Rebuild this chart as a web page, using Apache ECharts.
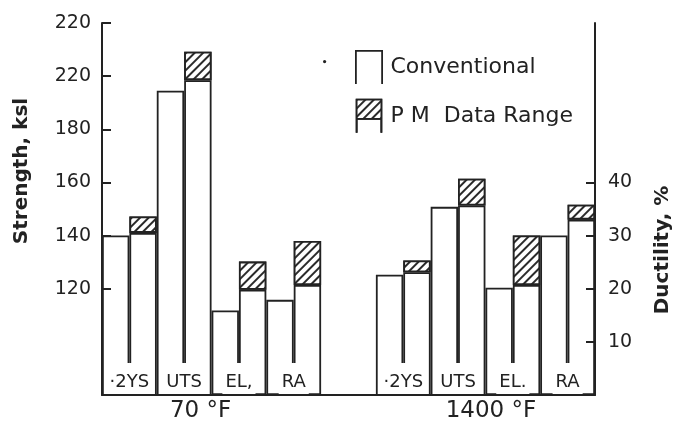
<!DOCTYPE html>
<html><head><meta charset="utf-8">
<script src="https://cdn.jsdelivr.net/npm/echarts@6/dist/echarts.min.js"></script>
<style>html,body{margin:0;padding:0;background:#fff}#c{width:685px;height:434px}</style>
</head><body><div id="c"></div>
<script>
// ---------- data ----------
const groups = ['70 °F', '1400 °F'];
const props70 = ['·2YS', 'UTS', 'EL,', 'RA'];
const props1400 = ['·2YS', 'UTS', 'EL.', 'RA'];
// which axis each property uses: 0 = Strength (ksi, left), 1 = Ductility (%, right)
const propAxis = [0, 0, 1, 1];
const conventional70 = [140, 194.5, 15.9, 17.9];
const pmLow70 = [141, 198.5, 19.8, 20.7];
const pmHigh70 = [147.2, 209.2, 25.1, 29.0];
const conventional1400 = [125.3, 150.8, 20.2, 30.0];
const pmLow1400 = [126.2, 151.3, 20.7, 33.0];
const pmHigh1400 = [130.6, 161.4, 30.0, 35.8];
const strengthTicks = [120, 140, 160, 180, 200, 220];
const strengthTickLabels = ['120', '140', '160', '180', '220', '220'];
const ductilityTicks = [10, 20, 30, 40];
const ductilityTickLabels = ['10', '20', '30', '40'];

// ---------- build slot arrays ----------
const slotsPerGroup = 8, gapSlots = 2;
const nSlots = slotsPerGroup * 2 + gapSlots;
const empty = () => new Array(nSlots).fill('-');
const convS = empty(), convD = empty(), lowS = empty(), rangeS = empty(), lowD = empty(), rangeD = empty();
const sets = [[conventional70, pmLow70, pmHigh70], [conventional1400, pmLow1400, pmHigh1400]];
sets.forEach((s, g) => {
  const start = g * (slotsPerGroup + gapSlots);
  for (let p = 0; p < 4; p++) {
    const c = start + 2 * p, m = c + 1;
    const rng = +(s[2][p] - s[1][p]).toFixed(2);
    if (propAxis[p] === 0) { convS[c] = s[0][p]; lowS[m] = s[1][p]; rangeS[m] = rng; }
    else { convD[c] = s[0][p]; lowD[m] = s[1][p]; rangeD[m] = rng; }
  }
});
const slotCats = Array.from({length: nSlots}, (_, i) => 's' + i);
const pairLabels = [...props70, '', ...props1400];

// ---------- chart ----------
const FONT = 'DejaVu Sans';
const INK = '#222';
const hatch = { symbol: 'rect', symbolSize: 1, color: '#2a2a2a', backgroundColor: '#fff',
  dashArrayX: [1, 0], dashArrayY: [1.7, 4], rotation: -Math.PI / 4 };
const barCommon = { type: 'bar', xAxisIndex: 0, barWidth: '100%', barGap: '-100%', barCategoryGap: 0,
  silent: true, emphasis: { disabled: true },
  itemStyle: { color: '#fff', borderColor: INK, borderWidth: 1.8 } };

const chart = echarts.init(document.getElementById('c'), null, { renderer: 'canvas' });
chart.setOption({
  animation: false,
  backgroundColor: '#fff',
  textStyle: { fontFamily: FONT, color: INK },
  grid: { left: 102, right: 90, top: 23, bottom: 39 },
  legend: {
    orient: 'vertical', left: 350, top: 45, itemWidth: 27, itemHeight: 33, itemGap: 14,
    selectedMode: false,
    itemStyle: { borderColor: INK, borderWidth: 1.8 },
    textStyle: { fontFamily: FONT, fontSize: 22, color: INK, padding: [0, 0, 0, 3] },
    data: [
      { name: 'Conventional', icon: 'path://M0,34L0,0L27,0L27,34' },
      { name: 'P M  Data Range', icon: 'path://M0,0L27,0L27,21L0,21Z M0,21L0,36 M27,21L27,36' }
    ]
  },
  graphic: [{ type: 'circle', left: 323, top: 60, shape: { r: 1.6 }, style: { fill: INK } }],
  xAxis: [
    { type: 'category', data: slotCats, position: 'bottom', boundaryGap: true, z: 11,
      axisLine: { show: true, lineStyle: { color: INK, width: 2 } },
      axisTick: { show: false }, axisLabel: { show: false }, splitLine: { show: false } },
    { type: 'category', data: pairLabels, position: 'bottom', z: 10,
      axisLine: { show: false }, axisTick: { show: false }, splitLine: { show: false },
      axisLabel: { inside: true, margin: 1, interval: 0, fontFamily: FONT, fontSize: 18, color: INK,
        backgroundColor: '#fff', padding: [10, 3, 3, 3] } },
    { type: 'value', min: 0, max: nSlots, position: 'bottom',
      axisLine: { show: false }, axisTick: { show: false }, splitLine: { show: false },
      axisLabel: { customValues: [3.6, 14.2], margin: 5, fontFamily: FONT, fontSize: 23, color: INK,
        formatter: v => (v < nSlots / 2 ? groups[0] : groups[1]) } }
  ],
  yAxis: [
    { type: 'value', min: 80, max: 220, interval: 20, position: 'left', z: 6,
      name: 'Strength, ksl', nameLocation: 'middle', nameRotate: 90, nameGap: 70,
      nameTextStyle: { fontFamily: FONT, fontSize: 20, fontWeight: 'bold', color: INK, padding: [0, 0, 0, 76] },
      axisLine: { show: true, lineStyle: { color: INK, width: 2 } },
      axisTick: { show: true, inside: true, length: 9, customValues: strengthTicks, lineStyle: { color: INK, width: 2 } },
      axisLabel: { customValues: strengthTicks, margin: 11, fontFamily: FONT, fontSize: 19, color: INK,
        formatter: v => strengthTickLabels[strengthTicks.indexOf(v)] },
      splitLine: { show: false } },
    { type: 'value', min: 0, max: 70, interval: 10, position: 'right', z: 6,
      name: 'Ductility, %', nameLocation: 'middle', nameRotate: 90, nameGap: 58,
      nameTextStyle: { fontFamily: FONT, fontSize: 20, fontWeight: 'bold', color: INK, padding: [0, 82, 0, 0] },
      axisLine: { show: true, lineStyle: { color: INK, width: 2 } },
      axisTick: { show: true, inside: true, length: 9, customValues: ductilityTicks, lineStyle: { color: INK, width: 2 } },
      axisLabel: { customValues: ductilityTicks, margin: 13, fontFamily: FONT, fontSize: 19, color: INK,
        formatter: v => ductilityTickLabels[ductilityTicks.indexOf(v)] },
      splitLine: { show: false } }
  ],
  series: [
    Object.assign({}, barCommon, { name: 'Conventional', yAxisIndex: 0, data: convS }),
    Object.assign({}, barCommon, { name: 'Conventional', yAxisIndex: 1, data: convD }),
    Object.assign({}, barCommon, { name: 'PM low', yAxisIndex: 0, stack: 'pmS', data: lowS }),
    Object.assign({}, barCommon, { name: 'P M  Data Range', yAxisIndex: 0, stack: 'pmS', data: rangeS,
      itemStyle: { color: '#fff', borderColor: INK, borderWidth: 1.8, decal: hatch } }),
    Object.assign({}, barCommon, { name: 'PM low', yAxisIndex: 1, stack: 'pmD', data: lowD }),
    Object.assign({}, barCommon, { name: 'P M  Data Range', yAxisIndex: 1, stack: 'pmD', data: rangeD,
      itemStyle: { color: '#fff', borderColor: INK, borderWidth: 1.8, decal: hatch } })
  ]
});
</script></body></html>
